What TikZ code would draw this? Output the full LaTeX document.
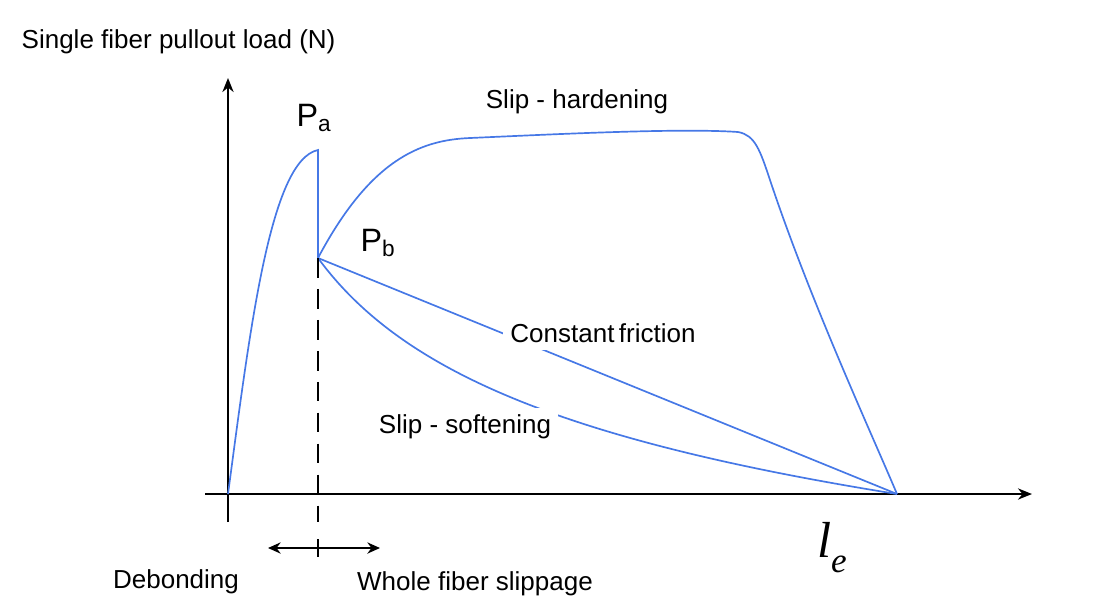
\documentclass[tikz,border=0pt]{standalone}
\usepackage{fontspec}
\setmainfont{Liberation Sans}
\usetikzlibrary{arrows.meta}
\definecolor{curve}{RGB}{70,120,230}
\begin{document}
\begin{tikzpicture}[x=0.025cm,y=-0.025cm,
  ax/.style={line width=1.3pt,-{Stealth[length=10pt,width=8pt]}},
  cv/.style={curve,line width=1.2pt},
  lbl/.style={font=\fontsize{18.5}{22}\selectfont,inner sep=1pt},
  gap/.style={lbl,fill=white,inner sep=5pt}]
\useasboundingbox (0,0) rectangle (1100,614);
% axes
\coordinate (y0) at (228,522); \coordinate (y1) at (228,78);
\coordinate (x0) at (205,494); \coordinate (x1) at (1032,494);
\draw[ax] (y0) -- (y1);
\draw[ax] (x0) -- (x1);
\coordinate (O) at (228,494);
\coordinate (A) at (318,150);
\coordinate (B) at (318,258);
\coordinate (E) at (897,494);
% curves
\draw[cv] (O) .. controls (250,330) and (270,160) .. (A) -- (B);
\draw[cv] (B) .. controls (370,160) and (420,140) .. (470,138)
  .. controls (560,134) and (680,128) .. (738,132)
  .. controls (755,135) and (760,150) .. (770,180)
  .. controls (810,300) and (870,430) .. (E);
\draw[cv] (B) -- (E);
\draw[cv] (B) .. controls (400,370) and (560,440) .. (E);
% dashed
\coordinate (D) at (318,522);
\draw[dash pattern=on 14pt off 8pt,line width=1pt] (B) -- (D);
% double arrow
\coordinate (L) at (268,548); \coordinate (R) at (380,548);
\draw[line width=1.3pt,{Stealth[length=9pt,width=8pt]}-{Stealth[length=9pt,width=8pt]}] (L) -- (R);
\coordinate (t1) at (318,539); \coordinate (t2) at (318,557);
\draw[line width=1pt] (t1) -- (t2);
% labels
\node[lbl,anchor=west] (ylab) at (20,42) {Single fiber pullout load (N)};
\node[lbl,font=\fontsize{23}{27}\selectfont] (pa) at (314,118) {P\textsubscript{a}};
\node[lbl,font=\fontsize{23}{27}\selectfont] (pb) at (378,243) {P\textsubscript{b}};
\node[gap] (hard) at (577,102) {Slip - hardening};
\node[gap] (cf) at (603,333) {Constant\,friction};
\node[gap] (soft) at (465,427) {Slip - softening};
\node[lbl] (le) at (832,548) {\fontsize{36}{40}\selectfont\fontspec{Liberation Serif}\itshape l\raisebox{-0.3em}{\fontsize{25}{28}\selectfont e}};
\node[lbl] (deb) at (176,582) {Debonding};
\node[lbl] (whole) at (475,584) {Whole fiber slippage};
\end{tikzpicture}
\end{document}
